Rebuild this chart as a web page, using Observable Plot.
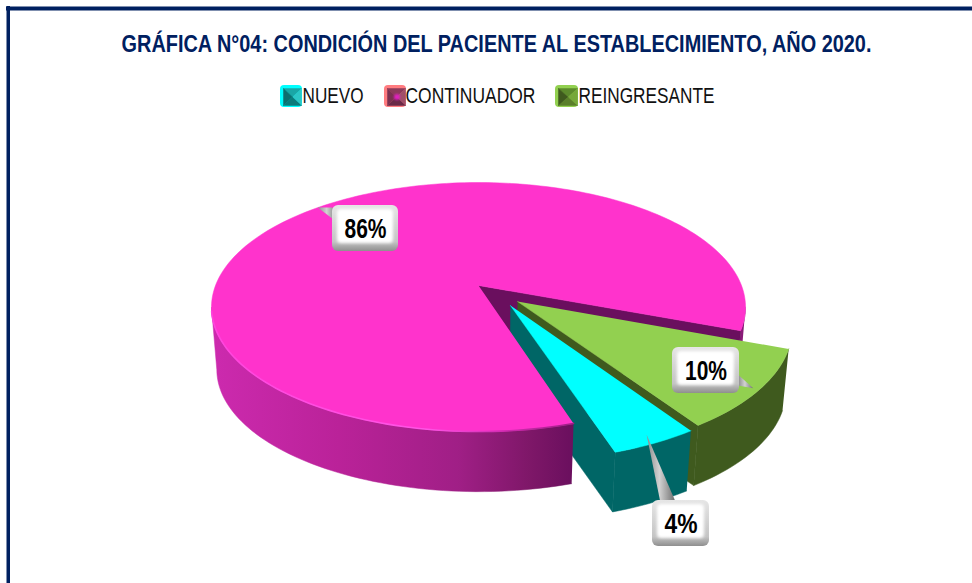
<!DOCTYPE html>
<html><head><meta charset="utf-8">
<script src="https://cdn.jsdelivr.net/npm/d3@7"></script>
<script src="https://cdn.jsdelivr.net/npm/@observablehq/plot@0.6"></script>
<style>html,body{margin:0;padding:0;background:#fff;overflow:hidden}svg{display:block}</style>
</head><body><div id="chart"></div>
<script>
const categories = ["NUEVO","CONTINUADOR","REINGRESANTE"];
const values = [4.4,85.6,10];
const pctLabels = ["4%","86%","10%"];
const titleText = "GRÁFICA N°04: CONDICIÓN DEL PACIENTE AL ESTABLECIMIENTO, AÑO 2020.";

// layout
const P = {cx:478, cy:285, rx:263, ay:120.8, k:0.173, s:0.98, d:63, start:146.6};
const explode = [[0.118,0.161],[0,0],[0.145,0.13]];
const topCol = ["#00FFFF","#FF33CC","#92D050"];
const faceCol = ["#006666","#6A0F5E","#3F5A1E"];
const swatch = [{x:280,w:22,o:"#00FFFF",c:["#1AA6A6","#2CC6C6","#0B7A7A","#0C6E6E"]},
                {x:384,w:22,o:"#FF7C80",c:["#8B3A5A","#A0506A","#6A2A48","#7A3050"]},
                {x:555,w:23,o:"#92D050",c:["#5C8A2C","#76A83A","#5A7F2A","#3F5A1E"]}];
const legendTextX = [302,405,578];
const legendTextW = [61,130,136];
const labelW = [33,42,42];
const tipRadius = [0.95,1,0.98];
const boxes = [{cx:680.5,cy:523,w:57,h:46,b:[[-21,-23],[-6,-23]]},
               {cx:365,cy:228,w:66,h:46,b:[[-33,-21],[-28,-6]]},
               {cx:705.5,cy:370,w:67,h:46,b:[[33,5],[32,15]]}];

const proj = (u,v,low=false)=>{
  const w=1-P.k*v; let x=P.rx*u/w, y=P.ay*v/w;
  if(low){x*=P.s;y=y*P.s+P.d;}
  return [P.cx+x,P.cy+y];
};
const rad = d=>d*Math.PI/180;
const dirOf = t=>[Math.sin(rad(t)),-Math.cos(rad(t))];

// slice angles from the values
let acc=P.start;
const slices = values.map((v,i)=>{const a0=acc,a1=acc+v*3.6;acc=a1;return {i,a0,a1};});
const arc=(s,low,t0=s.a0,t1=s.a1,n=Math.max(8,Math.round(Math.abs(t1-t0)/1.5)))=>d3.range(n+1).map(j=>{
  const [ex,ey]=explode[s.i];const [u,v]=dirOf(t0+(t1-t0)*j/n);
  return proj(ex+u,ey+v,low);
});
const apex=(s,low)=>proj(explode[s.i][0],explode[s.i][1],low);

let polys,id=0;
const add=(pts,c)=>{id++;pts.forEach(p=>polys.push({id,x:p[0],y:p[1],c}));};
const collect=f=>{polys=[];f();return polys;};
const polyMark=d=>Plot.line(d,{x:"x",y:"y",z:"id",fill:"c",stroke:"c",strokeWidth:0.5,curve:"linear"});

const big=slices[1];
const cutFace=s=>{const e=s.a1;add([apex(s,false),arc(s,false,e,e,1)[0],arc(s,true,e,e,1)[0],apex(s,true)],faceCol[s.i]);};
const small=s=>{
  cutFace(s);
  add([...arc(s,false),...arc(s,true).reverse()],faceCol[s.i]);
  add([...arc(s,false),apex(s,false)],topCol[s.i]);
};
const bigFace=collect(()=>{
  const t0=360+100,t1=big.a1;
  add([...arc(big,false,t0,t1),...arc(big,true,t0,t1).reverse()],"#8A1A78");
  cutFace(big);
});
const smallPolys=collect(()=>{small(slices[2]);small(slices[0]);});
const bigWall=collect(()=>{
  add([...arc(big,false,big.a0,260),...arc(big,true,big.a0,260).reverse()],"url(#wall)");
});
const bigTop=collect(()=>add([...arc(big,false),apex(big,false)],topCol[1]));
const rim=arc(big,false,big.a0,258).map(p=>({x:p[0],y:p[1]}));

// callouts
const tips=slices.map(s=>{const m=(s.a0+s.a1)/2;const[u,v]=dirOf(m);const[ex,ey]=explode[s.i];const r=tipRadius[s.i];return proj(ex+r*u,ey+r*v);});
let tri=[];
boxes.forEach((b,i)=>{
  tri.push({id:"t"+i,x:tips[i][0],y:tips[i][1]},{id:"t"+i,x:b.cx+b.b[0][0],y:b.cy+b.b[0][1]},{id:"t"+i,x:b.cx+b.b[1][0],y:b.cy+b.b[1][1]});
});

const defs=()=>{
  const d=document.createElementNS("http://www.w3.org/2000/svg","defs");
  d.innerHTML=`<linearGradient id="bev" x1="0" y1="0" x2="0" y2="1"><stop offset="0" stop-color="#e6e6e6"/><stop offset=".8" stop-color="#c4c4c4"/><stop offset="1" stop-color="#8f8f8f"/></linearGradient>
  <linearGradient id="ptr" x1="0" y1="0" x2="1" y2="0"><stop offset="0" stop-color="#8a8a8a"/><stop offset=".45" stop-color="#d2d2d2"/><stop offset="1" stop-color="#6f6f6f"/></linearGradient>
  <linearGradient id="wall" gradientUnits="userSpaceOnUse" x1="212" y1="0" x2="573" y2="0"><stop offset="0" stop-color="#CC2AAE"/><stop offset=".35" stop-color="#BA2299"/><stop offset=".68" stop-color="#A01F86"/><stop offset=".88" stop-color="#7E1768"/><stop offset="1" stop-color="#6A0F5E"/></linearGradient>
  <linearGradient id="rim" gradientUnits="userSpaceOnUse" x1="212" y1="0" x2="573" y2="0"><stop offset="0" stop-color="#FF44DD"/><stop offset=".6" stop-color="#FF55E6"/><stop offset=".8" stop-color="#D22CB2"/><stop offset="1" stop-color="#A01F86"/></linearGradient>`;
  return d;
};

// legend pyramids
const swTri=[];
swatch.forEach((s,i)=>{
  const x0=s.x+3,x1=s.x+s.w-1,y0=88,y1=105,cx=(x0+x1)/2,cy=(y0+y1)/2;
  const tr=[[[x0,y0],[x1,y0],[cx,cy]],[[x1,y0],[x1,y1],[cx,cy]],[[x1,y1],[x0,y1],[cx,cy]],[[x0,y1],[x0,y0],[cx,cy]]];
  tr.forEach((t,j)=>t.forEach(p=>swTri.push({id:i+"-"+j,x:p[0],y:p[1],c:s.c[j]})));
});

const font="'Liberation Sans',Arial,sans-serif";
const plot=Plot.plot({
  width:972,height:583,margin:0,
  style:{background:"#fff"},
  x:{domain:[0,972],range:[0,972],axis:null},
  y:{domain:[0,583],range:[0,583],axis:null},
  color:{type:"identity"},
  marks:[
    defs,
    Plot.ruleX([7.75],{y1:6,y2:583,stroke:"#002060",strokeWidth:3.5}),
    Plot.ruleY([8],{x1:6,x2:972,stroke:"#002060",strokeWidth:4}),
    Plot.text([titleText],{x:496,y:44,text:d=>d,fontFamily:font,fontWeight:"bold",fontSize:23,fill:"#002060"}),
    Plot.rect(swatch,{x1:"x",x2:d=>d.x+d.w,y1:85,y2:107,fill:"o",rx:4}),
    polyMark(swTri),
    Plot.dot([swatch[1]],{x:d=>d.x+12.5,y:96.5,r:3,fill:"#E020C0",imageFilter:"blur(1px)"}),
    Plot.text(categories,{x:(d,i)=>legendTextX[i],y:95.5,text:d=>d,textAnchor:"start",fontFamily:font,fontSize:22,fill:"#111"}),
    polyMark(bigFace),
    polyMark(smallPolys),
    polyMark(bigWall),
    polyMark(bigTop),
    Plot.line(rim,{x:"x",y:"y",stroke:"url(#rim)",strokeWidth:1.6,curve:"linear"}),
    Plot.line(tri,{x:"x",y:"y",z:"id",fill:"url(#ptr)",stroke:"none"}),
    Plot.rect(boxes,{x1:d=>d.cx-d.w/2,x2:d=>d.cx+d.w/2,y1:d=>d.cy-d.h/2,y2:d=>d.cy+d.h/2,fill:"url(#bev)",rx:6}),
    Plot.rect(boxes,{x1:d=>d.cx-d.w/2+5,x2:d=>d.cx+d.w/2-5,y1:d=>d.cy-d.h/2+4,y2:d=>d.cy+d.h/2-8,fill:"#fff",rx:4,imageFilter:"blur(1.5px)"}),
    Plot.text(pctLabels,{x:(d,i)=>boxes[i].cx,y:(d,i)=>boxes[i].cy+1,text:d=>d,fontFamily:font,fontWeight:"bold",fontSize:27,fill:"#000"})
  ]
});
document.getElementById("chart").appendChild(plot);
// narrow lettering: no condensed face is installed, so squeeze each text to its width
const fit=new Map([[titleText,750],...categories.map((c,i)=>[c,legendTextW[i]]),...pctLabels.map((c,i)=>[c,labelW[i]])]);
plot.querySelectorAll("text").forEach(t=>{
  const w=fit.get(t.textContent);
  if(w){
    const sx=w/t.getComputedTextLength();
    t.setAttribute("transform",(t.getAttribute("transform")||"")+` scale(${sx},1)`);
  }
});
</script></body></html>
